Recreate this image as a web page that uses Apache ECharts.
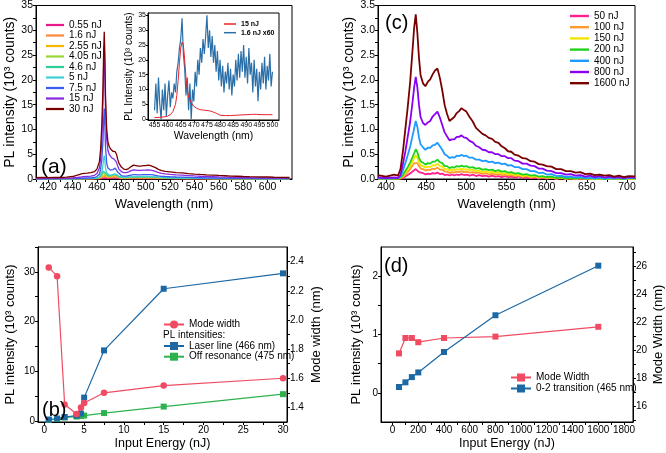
<!DOCTYPE html>
<html><head><meta charset="utf-8">
<script src="https://cdn.jsdelivr.net/npm/echarts@6/dist/echarts.min.js"></script>
<style>html,body{margin:0;padding:0;background:#fff}#c{width:666px;height:453px}</style>
</head><body><div id="c"></div>
<script>
// ---------- Panel (a): PL spectra (10^3 counts) ----------
const waveA = [410,415,420,425,430,435,440, 444,448,452,455,458,460,462,463,464,465,
  465.5,466,466.5,467,468,469,470,471,472,473,474,475,476,477,478,
  480,482,484,486,488,490,492,494,496,498,500,502,504,506,508,510,
  513,516,520, 525,530,535,540,545,550,555,560,565,570,575,580,585,590,595,600,605,610,615, 618];
const namesA = ['0.55 nJ','1.6 nJ','2.55 nJ','4.05 nJ','4.6 nJ','5 nJ','7.5 nJ','15 nJ','30 nJ'];
const colorsA = ['#e8198b','#ff8a3d','#f5b800','#9ad83a','#2fcf96','#3fd3d6','#3a5cf0','#8a2be2','#7a0000'];
const a0_55 = [0.01,0.01,0.01,0.01,0.01,0.01,0.02, 0.02,0.02,0.03,0.03,0.03,0.04,0.06,0.09,0.14,0.2,
  0.24,0.25,0.23,0.18,0.15,0.14,0.14,0.15,0.17,0.19,0.21,0.22,0.19,0.14,0.11,
  0.08,0.07,0.07,0.08,0.09,0.1,0.1,0.1,0.1,0.1,0.1,0.1,0.1,0.09,0.09,0.08,
  0.07,0.07,0.06, 0.05,0.05,0.04,0.04,0.04,0.03,0.03,0.03,0.02,0.02,0.02,0.02,0.02,0.02,0.02,0.01,0.01,0.01,0.01, 0.01];
const a1_6 = [0.01,0.01,0.01,0.01,0.02,0.02,0.02, 0.03,0.03,0.04,0.05,0.06,0.08,0.13,0.2,0.3,0.42,
  0.48,0.5,0.45,0.36,0.3,0.28,0.28,0.3,0.33,0.37,0.42,0.45,0.38,0.28,0.21,
  0.15,0.14,0.14,0.16,0.18,0.19,0.19,0.19,0.19,0.19,0.2,0.2,0.19,0.18,0.17,0.15,
  0.13,0.12,0.11, 0.1,0.09,0.08,0.07,0.06,0.06,0.05,0.05,0.04,0.04,0.04,0.03,0.03,0.03,0.03,0.02,0.02,0.02,0.02, 0.02];
const a2_55 = [0.02,0.02,0.02,0.02,0.02,0.03,0.03, 0.04,0.05,0.06,0.07,0.09,0.12,0.2,0.32,0.5,0.72,
  0.82,0.85,0.75,0.58,0.45,0.42,0.42,0.45,0.5,0.56,0.64,0.7,0.58,0.42,0.32,
  0.22,0.2,0.2,0.23,0.26,0.28,0.28,0.27,0.27,0.28,0.29,0.29,0.28,0.26,0.24,0.22,
  0.19,0.17,0.15, 0.13,0.12,0.1,0.09,0.08,0.08,0.07,0.06,0.06,0.05,0.05,0.04,0.04,0.04,0.03,0.03,0.03,0.03,0.03, 0.03];
const a4_05 = [0.02,0.02,0.02,0.02,0.03,0.03,0.04, 0.05,0.06,0.08,0.1,0.12,0.16,0.28,0.45,0.7,1.05,
  1.25,1.3,1.1,0.8,0.6,0.55,0.55,0.6,0.65,0.72,0.82,0.9,0.75,0.55,0.4,
  0.28,0.26,0.26,0.3,0.33,0.36,0.36,0.35,0.35,0.36,0.37,0.37,0.36,0.34,0.31,0.28,
  0.24,0.21,0.19, 0.17,0.15,0.13,0.12,0.11,0.1,0.09,0.08,0.07,0.06,0.06,0.05,0.05,0.05,0.04,0.04,0.04,0.03,0.03, 0.03];
const a4_6 = [0.03,0.03,0.03,0.03,0.03,0.04,0.05, 0.06,0.08,0.1,0.12,0.15,0.2,0.35,0.6,1.0,1.6,
  1.9,2.0,1.7,1.2,0.8,0.7,0.65,0.7,0.75,0.85,0.95,1.0,0.85,0.6,0.45,
  0.32,0.3,0.3,0.34,0.38,0.42,0.42,0.41,0.41,0.42,0.43,0.43,0.42,0.4,0.36,0.32,
  0.27,0.24,0.22, 0.2,0.18,0.16,0.14,0.12,0.11,0.1,0.09,0.08,0.07,0.07,0.06,0.06,0.05,0.05,0.05,0.04,0.04,0.04, 0.04];
const a5 = [0.03,0.03,0.03,0.03,0.03,0.04,0.05, 0.07,0.1,0.13,0.15,0.18,0.22,0.4,0.8,1.5,3,
  4.2,4.7,3.8,2.2,1.2,0.9,0.8,0.8,0.85,0.9,1.0,1.1,0.95,0.7,0.5,
  0.35,0.32,0.32,0.37,0.42,0.48,0.5,0.48,0.48,0.5,0.5,0.5,0.48,0.45,0.42,0.38,
  0.33,0.3,0.28, 0.25,0.22,0.2,0.17,0.15,0.13,0.12,0.11,0.1,0.09,0.08,0.07,0.07,0.06,0.06,0.05,0.05,0.05,0.04, 0.04];
const a7_5 = [0.05,0.05,0.05,0.05,0.05,0.06,0.07, 0.1,0.15,0.2,0.22,0.3,0.5,1.0,2,4,8,
  12,14.2,11,6.5,3.2,2.2,1.9,1.8,1.8,1.9,2.1,2.2,1.9,1.4,1.0,
  0.7,0.6,0.6,0.7,0.8,0.9,0.9,0.85,0.85,0.9,0.9,0.9,0.88,0.82,0.75,0.65,
  0.55,0.5,0.45, 0.4,0.36,0.32,0.28,0.25,0.22,0.2,0.18,0.16,0.14,0.13,0.12,0.11,0.1,0.09,0.09,0.08,0.08,0.07, 0.07];
const a15 = [0.1,0.1,0.1,0.12,0.12,0.15,0.2, 0.3,0.45,0.55,0.6,0.75,1.1,2.2,4,8,16,
  23,26.6,21,14,8,5.8,5.0,4.6,4.3,4.1,4.0,3.9,3.4,2.6,2.0,
  1.5,1.3,1.3,1.45,1.7,1.85,1.8,1.75,1.75,1.8,1.8,1.85,1.8,1.7,1.55,1.35,
  1.15,1.05,0.95, 0.85,0.78,0.7,0.62,0.55,0.5,0.45,0.4,0.36,0.32,0.3,0.27,0.25,0.23,0.21,0.2,0.18,0.17,0.16, 0.16];
const a30 = [0.28,0.33,0.27,0.34,0.3,0.38,0.5, 0.8,1.1,1.2,1.3,1.5,2.0,3.5,6,11,19,
  26,29.7,25,17,10,7.5,6.6,6.1,5.8,5.6,5.5,5.5,5.0,4.0,3.2,
  2.4,2.0,1.9,2.1,2.5,2.8,2.7,2.6,2.6,2.7,2.7,2.8,2.7,2.5,2.3,2.0,
  1.7,1.55,1.45, 1.3,1.22,1.1,1.0,0.92,0.85,0.8,0.72,0.66,0.6,0.55,0.5,0.46,0.44,0.4,0.4,0.35,0.34,0.3, 0.3];
const valuesA = [a0_55,a1_6,a2_55,a4_05,a4_6,a5,a7_5,a15,a30];

// ---------- Inset of (a) ----------
const insetX = [455,455.5,456,456.5,457,457.5,458,458.5,459,459.5,460,460.5,461,461.5,462,462.5,463,463.5,464,464.5,
  465,465.5,466,466.5,467,467.5,468,468.5,469,469.5,470,470.5,471,471.5,472,472.5,473,473.5,474,474.5,
  475,475.5,476,476.5,477,477.5,478,478.5,479,479.5,480,480.5,481,481.5,482,482.5,483,483.5,484,484.5,
  485,485.5,486,486.5,487,487.5,488,488.5,489,489.5,490,490.5,491,491.5,492,492.5,493,493.5,494,494.5,
  495,495.5,496,496.5,497,497.5,498,498.5,499,499.5,500];
const inset1_6x60 = [3,12,2,14,5,0,10,3,12,1, 8,13,4,9,7,12,9,16,19,24, 27,34,22,17,8,14,3,12,0,10,
  6,16,11,20,15,24,19,27,22,28, 35,24,30,21,28,19,25,16,23,13, 20,11,18,9,16,12,19,10,17,8,
  15,11,20,13,22,14,23,16,25,14, 21,12,24,15,19,9,20,11,17,6, 16,10,19,12,21,10,18,13,22,11, 16];
const insetRedX = [455,457,459,460,461,462,463,463.5,464,464.5,465,465.5,466,466.5,467,467.5,468,469,470,471,
  472,473,474,475,476,477,478,479,480,482,484,486,488,490,492,494,496,498,500];
const inset15 = [0.5,0.6,0.8,1.0,1.5,2.5,5,8,13,19,24,26,25,20,14,10,7.5,5.5,4.3,3.7,
  3.3,3.1,3.0,2.9,2.8,2.5,2.2,1.8,1.3,1.2,1.2,1.3,1.4,1.5,1.6,1.6,1.5,1.5,1.5];

// ---------- Panel (c): PL spectra ----------
const waveC = [390,400,410,415,418, 421,424,427,430,433,435,437,439,441,443, 446,449,452,455,458,461,464,467,470,473,
  476,479,482,485,488,491,494,497,500,504, 508,512,516,520,524,528,532,536,540,544,
  548,552,556,560,565,570,575,580,585,590, 595,600,606,612,618,624,630,636,642,648,
  654,660,666,672,678,684,690,696,702,710];
const namesC = ['50 nJ','100 nJ','150 nJ','200 nJ','400 nJ','800 nJ','1600 nJ'];
const colorsC = ['#ff1f8f','#ff9a30','#f2e600','#1ed21e','#1e9bff','#8a00f0','#7a0000'];
const c50 = [0.01,0.0,0.01,0.01,0.01, 0.02,0.05,0.08,0.11,0.15,0.18,0.2,0.18,0.14,0.12,
  0.12,0.09,0.11,0.1,0.12,0.11,0.13,0.1,0.11,0.08, 0.09,0.07,0.09,0.07,0.09,0.08,0.1,0.08,0.09,0.07,
  0.09,0.06,0.08,0.06,0.07,0.05,0.07,0.05,0.06,0.04, 0.06,0.04,0.05,0.03,0.05,0.02,0.04,0.02,0.03,0.01,
  0.03,0.01,0.03,0.0,0.02,0.0,0.02,0.0,0.01,0.0, 0.01,0.0,0.01,0.0,0.01,0.0,0.01,0.0,0.01,0.0];
const c100 = [0.01,0.01,0.02,0.01,0.02, 0.04,0.09,0.14,0.2,0.27,0.32,0.36,0.32,0.26,0.21,
  0.2,0.17,0.19,0.18,0.21,0.2,0.23,0.19,0.19,0.15, 0.15,0.12,0.14,0.13,0.15,0.14,0.16,0.14,0.15,0.13,
  0.14,0.12,0.13,0.1,0.12,0.09,0.11,0.09,0.1,0.08, 0.09,0.07,0.08,0.06,0.07,0.04,0.06,0.03,0.05,0.02,
  0.04,0.02,0.03,0.01,0.03,0.01,0.02,0.0,0.02,0.01, 0.01,0.0,0.02,0.0,0.01,0.0,0.01,0.0,0.01,0.0];
const c150 = [0.01,0.01,0.01,0.01,0.02, 0.06,0.12,0.19,0.26,0.35,0.42,0.48,0.43,0.34,0.28,
  0.26,0.23,0.25,0.24,0.28,0.27,0.31,0.26,0.25,0.2, 0.2,0.17,0.19,0.18,0.2,0.19,0.21,0.19,0.2,0.18,
  0.19,0.16,0.17,0.14,0.16,0.13,0.15,0.12,0.14,0.11, 0.12,0.1,0.11,0.08,0.09,0.06,0.08,0.05,0.06,0.04,
  0.05,0.03,0.04,0.02,0.03,0.01,0.02,0.01,0.02,0.01, 0.01,0.0,0.01,0.0,0.01,0.0,0.01,0.0,0.01,0.0];
const c200 = [0.01,0.01,0.01,0.01,0.03, 0.08,0.16,0.24,0.33,0.44,0.52,0.6,0.54,0.43,0.36,
  0.33,0.29,0.32,0.31,0.35,0.35,0.39,0.34,0.32,0.26, 0.26,0.22,0.24,0.23,0.26,0.25,0.27,0.25,0.26,0.23,
  0.24,0.21,0.22,0.19,0.2,0.18,0.19,0.16,0.18,0.15, 0.16,0.13,0.14,0.11,0.12,0.09,0.1,0.07,0.08,0.05,
  0.06,0.04,0.05,0.02,0.04,0.01,0.03,0.01,0.03,0.01, 0.02,0.01,0.02,0.0,0.02,0.01,0.01,0.0,0.02,0.01];
const c400 = [0.02,0.01,0.02,0.02,0.05, 0.17,0.32,0.48,0.65,0.87,1.02,1.17,1.05,0.84,0.7,
  0.64,0.59,0.63,0.63,0.68,0.69,0.73,0.66,0.59,0.5, 0.47,0.42,0.44,0.43,0.47,0.46,0.49,0.46,0.47,0.43,
  0.43,0.39,0.39,0.36,0.37,0.34,0.35,0.32,0.33,0.3, 0.31,0.27,0.28,0.24,0.24,0.2,0.2,0.16,0.16,0.12,
  0.13,0.09,0.1,0.06,0.07,0.04,0.05,0.03,0.04,0.02, 0.03,0.01,0.03,0.01,0.02,0.01,0.03,0.01,0.02,0.02];
const c800 = [0.03,0.02,0.03,0.02,0.08, 0.3,0.55,0.85,1.15,1.55,1.85,2.06,1.85,1.5,1.25,
  1.13,1.09,1.14,1.17,1.26,1.31,1.36,1.24,1.09,0.94, 0.86,0.78,0.8,0.8,0.85,0.85,0.88,0.84,0.83,0.77,
  0.74,0.67,0.64,0.59,0.58,0.54,0.54,0.5,0.5,0.46, 0.46,0.42,0.42,0.37,0.36,0.31,0.31,0.27,0.26,0.21,
  0.21,0.17,0.16,0.12,0.12,0.09,0.1,0.07,0.08,0.05, 0.07,0.04,0.06,0.03,0.05,0.03,0.04,0.02,0.04,0.03];
const c1600 = [0.08,0.05,0.09,0.07,0.2, 0.55,1.0,1.45,1.95,2.6,3.05,3.32,2.95,2.45,2.1,
  1.93,1.87,1.96,2.01,2.11,2.19,2.23,2.04,1.79,1.49, 1.31,1.17,1.21,1.25,1.33,1.37,1.43,1.39,1.36,1.25,
  1.16,1.03,0.97,0.91,0.88,0.83,0.81,0.75,0.73,0.66, 0.62,0.56,0.55,0.49,0.47,0.42,0.41,0.36,0.35,0.3,
  0.29,0.26,0.25,0.2,0.2,0.16,0.16,0.13,0.14,0.1, 0.11,0.08,0.09,0.07,0.08,0.05,0.07,0.04,0.06,0.05];
const valuesC = [c50,c100,c150,c200,c400,c800,c1600];

// ---------- Panel (b) ----------
const energyB = [0.55,1.6,2.55,4.05,4.6,5,7.5,15,30];
const modeWidthB = [2.36,2.30,1.42,1.355,1.40,1.43,1.50,1.55,1.60];
const laserLineB = [0.3,0.5,0.8,1.1,1.5,4.7,14.2,26.6,29.7];
const offResB = [0.2,0.4,0.7,0.9,1.0,1.1,1.6,2.9,5.4];

// ---------- Panel (d) ----------
const energyD = [50,100,150,200,400,800,1600];
const transD = [0.10,0.18,0.27,0.35,0.70,1.33,2.18];
const modeWidthD = [19.8,20.9,20.9,20.6,20.9,21.0,21.7];

// ---------- Tick labels ----------
const ticksAx = [420,440,460,480,500,520,540,560,580,600];
const minorAx = [410,420,430,440,450,460,470,480,490,500,510,520,530,540,550,560,570,580,590,600,610];
const ticksAy = [0,5,10,15,20,25,30,35];
const minorAy = [0,2.5,5,7.5,10,12.5,15,17.5,20,22.5,25,27.5,30,32.5,35];
const ticksIx = [455,460,465,470,475,480,485,490,495,500];
const ticksIy = [0,5,10,15,20,25,30,35];
const ticksCx = [400,450,500,550,600,650,700];
const minorCx = [400,425,450,475,500,525,550,575,600,625,650,675,700];
const ticksCy = [0,0.5,1.0,1.5,2.0,2.5,3.0,3.5];
const minorCy = [0,0.25,0.5,0.75,1.0,1.25,1.5,1.75,2.0,2.25,2.5,2.75,3.0,3.25,3.5];
const ticksBx = [0,5,10,15,20,25,30];
const minorBx = [0,2.5,5,7.5,10,12.5,15,17.5,20,22.5,25,27.5,30];
const ticksBy = [0,10,20,30];
const minorBy = [0,5,10,15,20,25,30,35];
const ticksBr = [1.4,1.6,1.8,2.0,2.2,2.4];
const minorBr = [1.4,1.5,1.6,1.7,1.8,1.9,2.0,2.1,2.2,2.3,2.4];
const ticksDx = [0,200,400,600,800,1000,1200,1400,1600,1800];
const minorDx = [0,100,200,300,400,500,600,700,800,900,1000,1100,1200,1300,1400,1500,1600,1700,1800];
const ticksDy = [0,1,2];
const minorDy = [0,0.5,1,1.5,2];
const ticksDr = [16,18,20,22,24,26];
const minorDr = [15,16,17,18,19,20,21,22,23,24,25,26,27];

// ---------- Build ----------
const F = 'Liberation Sans';
const K = '#000';
const pairs = (xs, ys) => xs.map((x, i) => [x, ys[i]]);
const plain = v => String(v);
const f1 = v => Number(v).toFixed(1);

function axis(o) {
  const a = {
    type: 'value', gridIndex: o.grid, min: o.min, max: o.max, z: o.z || 0,
    axisLine: { show: true, onZero: false, lineStyle: { color: K, width: 1 } },
    axisTick: { show: true, inside: false, length: o.tl || 3, customValues: o.minor || o.labels, lineStyle: { color: K, width: 1 } },
    axisLabel: { show: true, customValues: o.labels, fontSize: o.fs || 10.5, fontFamily: F, color: K, margin: o.margin || 3, formatter: o.fmt || plain },
    splitLine: { show: false },
    name: o.name || '', nameLocation: 'middle', nameGap: o.gap || 20,
    nameTextStyle: { fontSize: o.nfs || 13, fontFamily: F, color: K }
  };
  if (o.position) a.position = o.position;
  return a;
}

const grids = [
  { left: 36, top: 4, width: 256, height: 175 },                 // a
  { left: 148, top: 13, width: 131, height: 107, z: 3, backgroundColor: '#fff' }, // inset
  { left: 378, top: 4, width: 257, height: 175 },                // c
  { left: 38, top: 247, width: 249, height: 175 },               // b
  { left: 381, top: 247, width: 255, height: 175 }               // d
].map(g => Object.assign({ show: true, borderColor: K, borderWidth: 1, containLabel: false }, g));

const xAxes = [
  axis({ grid: 0, min: 410, max: 620, labels: ticksAx, minor: minorAx, name: 'Wavelength (nm)', gap: 19, nfs: 13 }),
  axis({ grid: 1, min: 452.5, max: 502.5, labels: ticksIx, fs: 7, tl: 2, margin: 2, name: 'Wavelength (nm)', gap: 11, nfs: 10.5, z: 4 }),
  axis({ grid: 2, min: 390, max: 710, labels: ticksCx, minor: minorCx, name: 'Wavelength (nm)', gap: 19, nfs: 13 }),
  axis({ grid: 3, min: -0.8, max: 30.5, labels: ticksBx, minor: minorBx, fs: 10, name: 'Input Energy (nJ)', gap: 15, nfs: 12.5 }),
  axis({ grid: 4, min: -90, max: 1870, labels: ticksDx, minor: minorDx, fs: 10, name: 'Input Energy (nJ)', gap: 15, nfs: 12.5 })
];
const yAxes = [
  axis({ grid: 0, min: 0, max: 35, labels: ticksAy, minor: minorAy, name: 'PL intensity (10³ counts)', gap: 19, nfs: 14 }),
  axis({ grid: 1, min: -0.3, max: 35.8, labels: ticksIy, fs: 7, tl: 2, margin: 2, name: 'PL Intensity (10³ counts)', gap: 9, nfs: 10, z: 4 }),
  axis({ grid: 2, min: 0, max: 3.5, labels: ticksCy, minor: minorCy, fmt: f1, name: 'PL intensity (10³ counts)', gap: 22, nfs: 14 }),
  axis({ grid: 3, min: -0.2, max: 35, labels: ticksBy, minor: minorBy, fs: 10, name: 'PL intensity (10³ counts)', gap: 21, nfs: 13 }),
  axis({ grid: 3, min: 1.3, max: 2.5, labels: ticksBr, minor: minorBr, fs: 10, fmt: f1, position: 'right', name: 'Mode width (nm)', gap: 23, nfs: 13 }),
  axis({ grid: 4, min: -0.5, max: 2.5, labels: ticksDy, minor: minorDy, fs: 10, name: 'PL intensity (10³ counts)', gap: 18, nfs: 13 }),
  axis({ grid: 4, min: 14.9, max: 27.4, labels: ticksDr, minor: minorDr, fs: 10, position: 'right', name: 'Mode Width (nm)', gap: 19, nfs: 13 })
];

const series = [];
namesA.forEach((n, i) => series.push({
  type: 'line', name: n, xAxisIndex: 0, yAxisIndex: 0, data: pairs(waveA, valuesA[i]),
  symbol: 'none', color: colorsA[i], lineStyle: { width: 1.3, color: colorsA[i] }, z: 2
}));
series.push({ type: 'line', name: '15 nJ ', xAxisIndex: 1, yAxisIndex: 1, data: pairs(insetRedX, inset15),
  symbol: 'none', color: '#e8232b', lineStyle: { width: 1, color: '#e8232b' }, z: 5 });
series.push({ type: 'line', name: '1.6 nJ x60', xAxisIndex: 1, yAxisIndex: 1, data: pairs(insetX, inset1_6x60),
  symbol: 'none', color: '#2a6fa8', lineStyle: { width: 1.2, color: '#2a6fa8' }, z: 4 });
namesC.forEach((n, i) => series.push({
  type: 'line', name: n, xAxisIndex: 2, yAxisIndex: 2, data: pairs(waveC, valuesC[i]),
  symbol: 'none', color: colorsC[i], lineStyle: { width: 1.8, color: colorsC[i] }, z: 2
}));
const RED = '#f04b62', BLUE = '#1c68a4', GREEN = '#2db24e';
series.push({ type: 'line', name: 'Off resonance (475 nm)', xAxisIndex: 3, yAxisIndex: 3, data: pairs(energyB, offResB),
  symbol: 'rect', symbolSize: 6, color: GREEN, lineStyle: { width: 1.2, color: GREEN }, z: 2 });
series.push({ type: 'line', name: 'Laser line (466 nm)', xAxisIndex: 3, yAxisIndex: 3, data: pairs(energyB, laserLineB),
  symbol: 'rect', symbolSize: 6, color: BLUE, lineStyle: { width: 1.2, color: BLUE }, z: 3 });
series.push({ type: 'line', name: 'Mode width', xAxisIndex: 3, yAxisIndex: 4, data: pairs(energyB, modeWidthB),
  symbol: 'circle', symbolSize: 6.5, color: RED, lineStyle: { width: 1.2, color: RED }, z: 4 });
series.push({ type: 'line', name: 'Mode Width', xAxisIndex: 4, yAxisIndex: 6, data: pairs(energyD, modeWidthD),
  symbol: 'rect', symbolSize: 6, color: RED, lineStyle: { width: 1.2, color: RED }, z: 3 });
series.push({ type: 'line', name: '0-2 transition (465 nm)', xAxisIndex: 4, yAxisIndex: 5, data: pairs(energyD, transD),
  symbol: 'rect', symbolSize: 6, color: BLUE, lineStyle: { width: 1.2, color: BLUE }, z: 3 });

const LINE_ICON = 'path://M0,0 H24 V3 H0 Z';
function legend(o) {
  const l = {
    data: o.data, orient: 'vertical', left: o.left, top: o.top, padding: 0,
    itemWidth: o.iw, itemHeight: o.ih, itemGap: o.gap, selectedMode: false, symbolKeepAspect: true,
    textStyle: { fontSize: o.fs, fontFamily: F, color: K, lineHeight: o.ih, fontWeight: o.fw || 'normal', padding: 0 }
  };
  if (o.icon) l.icon = o.icon;
  return l;
}
const legends = [
  legend({ data: namesA, left: 46, top: 20, iw: 18, ih: 10, gap: 0.5, fs: 10, icon: LINE_ICON }),
  legend({ data: namesC, left: 570, top: 10.5, iw: 19, ih: 11, gap: 0.2, fs: 10, icon: LINE_ICON }),
  legend({ data: ['15 nJ ', '1.6 nJ x60'], left: 224, top: 20, iw: 12, ih: 8, gap: 0.7, fs: 7, fw: 'bold', icon: LINE_ICON }),
  legend({ data: ['Mode width'], left: 163, top: 319.5, iw: 20, ih: 10, gap: 0, fs: 10 }),
  legend({ data: ['Laser line (466 nm)', 'Off resonance (475 nm)'], left: 163, top: 341, iw: 20, ih: 10, gap: 0.7, fs: 10 }),
  legend({ data: ['Mode Width', '0-2 transition (465 nm)'], left: 510, top: 372.5, iw: 20, ih: 10, gap: 1, fs: 10 })
];

const txt = (t, x, y, fs) => ({ type: 'text', x: x, y: y, z: 10,
  style: { text: t, fontSize: fs, fontFamily: F, fill: K, textVerticalAlign: 'middle', textAlign: 'left' } });

const chart = echarts.init(document.getElementById('c'), null, { renderer: 'canvas' });
chart.setOption({
  animation: false,
  backgroundColor: '#fff',
  grid: grids,
  xAxis: xAxes,
  yAxis: yAxes,
  legend: legends,
  series: series,
  graphic: [
    txt('(a)', 41, 167, 21),
    txt('(c)', 385, 23, 20),
    txt('(b)', 42, 410, 20),
    txt('(d)', 384, 266, 20),
    txt('PL intensities:', 163, 335, 10)
  ]
});
</script></body></html>
